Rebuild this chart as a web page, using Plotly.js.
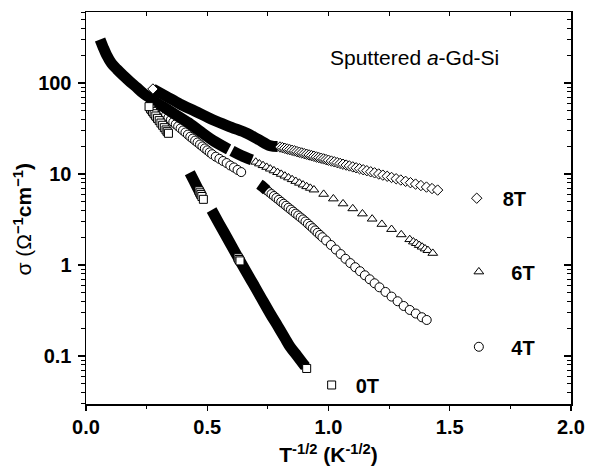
<!DOCTYPE html>
<html><head><meta charset="utf-8">
<script src="https://cdn.plot.ly/plotly-3.0.1.min.js"></script>
<style>html,body{margin:0;padding:0;background:#fff}#chart{width:589px;height:473px}</style>
</head><body><div id="chart"></div>
<script>
// ---- 8 T ----
const x8T_band = [0.276, 0.33, 0.388, 0.45, 0.525, 0.60, 0.663, 0.71, 0.76, 0.79];
const y8T_band = [85.9, 71.6, 58.7, 49.0, 39.2, 32.6, 28.0, 24.0, 20.4, 20.0];
const x8T = [0.276, 0.80, 0.81, 0.82, 0.83, 0.84, 0.85, 0.86, 0.87, 0.88, 0.89, 0.90, 0.91, 0.92, 0.93, 0.94, 0.95, 0.96, 0.97, 0.98, 0.99, 1.00,
  1.012, 1.024, 1.036, 1.048, 1.06, 1.073, 1.086, 1.10, 1.114, 1.128, 1.143, 1.158, 1.174, 1.19, 1.207, 1.224, 1.242, 1.26,
  1.279, 1.298, 1.318, 1.338, 1.359, 1.381, 1.404, 1.427, 1.45];
const y8T = [85.9, 19.8, 19.49, 19.16, 18.84, 18.52, 18.22, 17.92, 17.62, 17.33, 17.04, 16.75, 16.48, 16.20, 15.93, 15.66, 15.40, 15.15, 14.90, 14.65, 14.40, 14.17,
  13.88, 13.61, 13.34, 13.07, 12.81, 12.53, 12.26, 11.97, 11.70, 11.43, 11.14, 10.87, 10.58, 10.30, 10.01, 9.72, 9.44, 9.16,
  8.87, 8.59, 8.31, 8.03, 7.75, 7.47, 7.19, 6.92, 6.66];

// ---- 6 T ----
const x6T_band = [0.058, 0.07, 0.085, 0.105, 0.127, 0.155, 0.182, 0.21, 0.236, 0.265, 0.292, 0.33, 0.374, 0.43, 0.47, 0.525, 0.588, null, 0.602, 0.64, 0.684];
const y6T_band = [300, 250, 203, 165, 142, 120, 103, 89, 77, 68, 60, 52.5, 44, 35.5, 29.5, 23.2, 18.7, null, 18.0, 16.0, 14.3];
const x6T = [0.70, 0.715, 0.73, 0.745, 0.76, 0.775, 0.79, 0.805, 0.82, 0.835, 0.85, 0.865, 0.88, 0.895, 0.91, 0.925,
  0.94, 0.98, 1.02, 1.06, 1.10, 1.14, 1.18, 1.22, 1.26, 1.30, 1.335, 1.35, 1.362, 1.374, 1.386, 1.398, 1.41, 1.43];
const y6T = [13.55, 12.97, 12.42, 11.89, 11.38, 10.89, 10.42, 9.97, 9.53, 9.11, 8.71, 8.33, 7.96, 7.61, 7.29, 7.00,
  6.71, 6.01, 5.35, 4.72, 4.17, 3.66, 3.21, 2.81, 2.47, 2.16, 1.91, 1.80, 1.73, 1.65, 1.58, 1.51, 1.45, 1.35];

// ---- 4 T ----
const x4T_band = [0.715, 0.73, 0.745];
const y4T_band = [7.7, 7.2, 6.64];
const x4T = [0.30, 0.31, 0.32, 0.33, 0.34, 0.35, 0.36, 0.37, 0.38, 0.39, 0.40, 0.41, 0.42, 0.43, 0.44, 0.45, 0.46, 0.47, 0.48, 0.49, 0.50, 0.51, 0.52,
  0.535, 0.55, 0.565, 0.58, 0.595, 0.61, 0.625, 0.64,
  0.745, 0.755, 0.765, 0.775, 0.785, 0.795, 0.805, 0.815, 0.825, 0.835, 0.845, 0.855, 0.865, 0.875, 0.885, 0.895, 0.905, 0.915, 0.925, 0.935, 0.945, 0.955, 0.965, 0.975,
  0.99, 1.01, 1.03, 1.05, 1.07, 1.09, 1.11, 1.13, 1.15, 1.17, 1.19, 1.21, 1.235, 1.26, 1.285, 1.31, 1.335, 1.36, 1.385, 1.405];
const y4T = [52.5, 49.5, 46.8, 44.2, 41.7, 39.4, 37.2, 35.2, 33.4, 31.7, 30.1, 28.6, 27.1, 25.7, 24.5, 23.3, 22.2, 21.1, 20.1, 19.1, 18.2, 17.3, 16.5,
  15.5, 14.7, 13.9, 13.2, 12.4, 11.8, 11.1, 10.5,
  6.64, 6.32, 6.02, 5.73, 5.46, 5.20, 4.94, 4.71, 4.48, 4.26, 4.06, 3.86, 3.67, 3.50, 3.33, 3.17, 3.01, 2.84, 2.69, 2.54, 2.40, 2.26, 2.14, 2.02,
  1.86, 1.66, 1.48, 1.32, 1.17, 1.05, 0.946, 0.855, 0.771, 0.697, 0.630, 0.569, 0.506, 0.450, 0.400, 0.355, 0.321, 0.293, 0.267, 0.249];

// ---- 0 T ----
const x0T_band = [0.265, 0.28, 0.30, null, 0.428, 0.445, 0.462, 0.478, null,
  0.518, 0.55, 0.58, 0.61, 0.633, 0.66, 0.69, 0.72, 0.759, 0.79, 0.82, 0.842, 0.87, 0.895, 0.905];
const y0T_band = [52.7, 46.5, 39.3, null, 10.3, 8.41, 6.85, 5.66, null,
  4.02, 2.82, 2.03, 1.46, 1.135, 0.849, 0.617, 0.447, 0.294, 0.215, 0.158, 0.126, 0.101, 0.0826, 0.0764];
const x0T = [0.267, 0.274, 0.281, 0.288, 0.295, 0.302, 0.309, 0.316, 0.323, 0.33, 0.335, 0.34, 0.26,
  0.466, 0.470, 0.474, 0.478, 0.484, 0.627, 0.631, 0.635, 0.91];
const y0T = [51.8, 48.8, 46.0, 43.4, 40.9, 38.6, 36.3, 34.3, 32.3, 30.5, 29.2, 28.0, 55.0,
  6.53, 6.22, 5.94, 5.66, 5.27, 1.20, 1.15, 1.11, 0.073];

const FONT = 'Liberation Sans, Arial, Helvetica, sans-serif';
const band = (x, y) => ({x, y, type: 'scatter', mode: 'lines', line: {color: '#000', width: 11, shape: 'spline'},
  connectgaps: false, showlegend: false, hoverinfo: 'skip'});
const mk = (x, y, sym, size, name, lg) => ({x, y, type: 'scatter', mode: 'markers', name, legend: lg,
  marker: {symbol: sym, size, color: '#fff', line: {color: '#000', width: 1}}});

const traces = [
  mk(x4T, y4T, 'circle', 9, '4T', 'legend3'),
  band(x4T_band, y4T_band),
  band(x6T_band, y6T_band),
  mk(x6T, y6T, 'triangle-up', 8.5, '6T', 'legend2'),
  band(x0T_band, y0T_band),
  mk(x0T, y0T, 'square', 8, '0T', 'legend4'),
  band(x8T_band, y8T_band),
  mk(x8T, y8T, 'diamond', 8, '8T', 'legend'),
  {x: [], y: [], xaxis: 'x2', yaxis: 'y2', type: 'scatter', showlegend: false}
];

const yr = [-1.527, 2.780];
const lgBase = {bgcolor: 'rgba(0,0,0,0)', borderwidth: 0, font: {family: FONT, size: 20, weight: 'bold', color: '#000'},
  xanchor: 'left', yanchor: 'middle'};
const layout = {
  width: 589, height: 473,
  margin: {l: 86, r: 18, t: 12, b: 69},
  paper_bgcolor: '#fff', plot_bgcolor: '#fff',
  font: {family: FONT, color: '#000'},
  showlegend: true,
  xaxis: {range: [0, 2], dtick: 0.5, tick0: 0, tickformat: '.1f', showgrid: false, zeroline: false,
    showline: true, linecolor: '#000', linewidth: 1.5, ticks: 'outside', ticklen: 5, tickwidth: 1.2, tickcolor: '#000',
    minor: {dtick: 0.25, ticks: 'outside', ticklen: 3, tickwidth: 1.2, tickcolor: '#000'},
    tickfont: {family: FONT, size: 20, weight: 'bold'}, ticklabelstandoff: -1,
    title: {text: 'T<sup>-1/2</sup> (K<sup>-1/2</sup>)', font: {family: FONT, size: 21, weight: 'bold'}, standoff: 11}},
  xaxis2: {overlaying: 'x', side: 'top', range: [0, 2], dtick: 0.25, showgrid: false, zeroline: false,
    showline: true, linecolor: '#000', linewidth: 1.5, ticks: 'inside', ticklen: 4, tickwidth: 1.2, tickcolor: '#000', showticklabels: false},
  yaxis: {type: 'log', range: yr, dtick: 1, showgrid: false, zeroline: false,
    showline: true, linecolor: '#000', linewidth: 1.5, ticks: 'outside', ticklen: 7, tickwidth: 1.2, tickcolor: '#000',
    minor: {dtick: 'D1', ticks: 'outside', ticklen: 4, tickwidth: 1, tickcolor: '#000'},
    tickfont: {family: FONT, size: 20, weight: 'bold'}, ticklabelstandoff: 2},
  yaxis2: {overlaying: 'y', side: 'right', type: 'log', range: yr, dtick: 1, showgrid: false, zeroline: false,
    showline: true, linecolor: '#000', linewidth: 1.5, ticks: 'inside', ticklen: 7, tickwidth: 1.2, tickcolor: '#000',
    minor: {dtick: 'D1', ticks: 'inside', ticklen: 4, tickwidth: 1, tickcolor: '#000'}, showticklabels: false},
  legend: Object.assign({}, lgBase, {x: 0.752, y: 0.525, itemwidth: 42}),
  legend2: Object.assign({}, lgBase, {x: 0.743, y: 0.3375, itemwidth: 55}),
  legend3: Object.assign({}, lgBase, {x: 0.743, y: 0.146, itemwidth: 55}),
  legend4: Object.assign({}, lgBase, {x: 0.457, y: 0.0485, itemwidth: 38}),
  annotations: [
    {text: 'Sputtered <i>a</i>-Gd-Si', xref: 'paper', yref: 'paper', x: 0.678, y: 0.883,
      xanchor: 'center', yanchor: 'middle', showarrow: false, font: {family: FONT, size: 21, color: '#000'}},
    {text: 'σ (Ω<b><sup>−1</sup>cm<sup>−1</sup>)</b>', xref: 'paper', yref: 'paper', x: -0.1299, y: 0.4707,
      textangle: -90, xanchor: 'center', yanchor: 'middle', showarrow: false, font: {family: FONT, size: 21, color: '#000'}}
  ]
};
Plotly.newPlot('chart', traces, layout, {displayModeBar: false, staticPlot: true});
</script></body></html>
